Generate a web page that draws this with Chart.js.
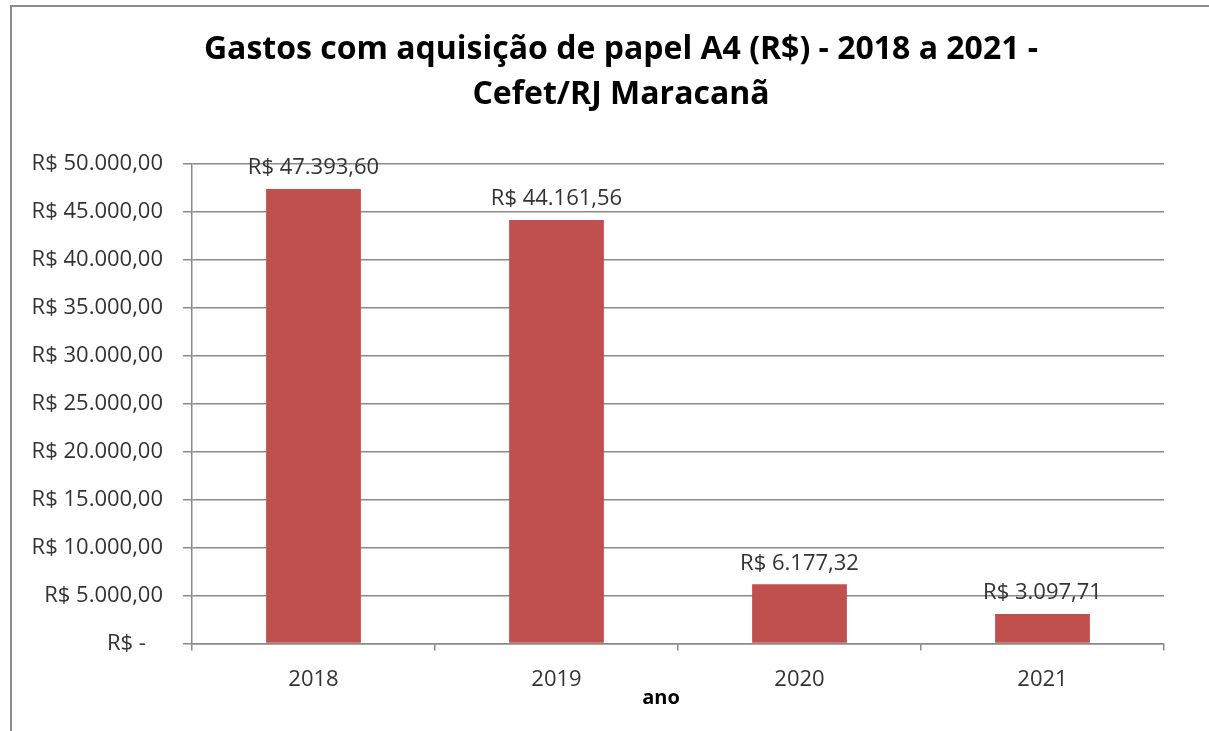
<!DOCTYPE html>
<html>
<head>
<meta charset="utf-8">
<script src="https://cdn.jsdelivr.net/npm/chart.js@4.4.1/dist/chart.umd.min.js"></script>
<style>
  html, body { margin: 0; padding: 0; background: #fff; }
  #wrap { width: 1209px; height: 731px; position: relative; }
</style>
</head>
<body>
<div id="wrap"><canvas id="gastos"></canvas></div>
<script>
// Dados
const anos = ['2018', '2019', '2020', '2021'];
const gastos = [47393.60, 44161.56, 6177.32, 3097.71];
const rotulosValores = ['R$ 47.393,60', 'R$ 44.161,56', 'R$ 6.177,32', 'R$ 3.097,71'];
const rotulosEixoY = ['R$ -   ', 'R$ 5.000,00', 'R$ 10.000,00', 'R$ 15.000,00', 'R$ 20.000,00',
    'R$ 25.000,00', 'R$ 30.000,00', 'R$ 35.000,00', 'R$ 40.000,00', 'R$ 45.000,00', 'R$ 50.000,00'];
const titulo = ['Gastos com aquisição de papel A4 (R$) - 2018 a 2021 -', 'Cefet/RJ Maracanã'];
const tituloX = 'ano';

const FONT = "'Open Sans', 'Noto Sans', sans-serif";
const TEXT = '#333333';
const GRID = '#8a8a8a';

// moldura (linhas superior e esquerda), título e nome do eixo X como no original
const moldura = {
    id: 'moldura',
    beforeDraw(chart) {
        const ctx = chart.ctx;
        ctx.save();
        ctx.strokeStyle = '#8c8c8c';
        ctx.lineWidth = 2;
        ctx.beginPath();
        ctx.moveTo(11, 731);
        ctx.lineTo(11, 6);
        ctx.lineTo(1209, 6);
        ctx.stroke();

        ctx.fillStyle = '#000000';
        ctx.textAlign = 'center';
        ctx.textBaseline = 'middle';
        ctx.font = 'bold 32px ' + FONT;
        titulo.forEach((linha, i) => ctx.fillText(linha, 621, 50 + i * 45));

        // "ano" fica um pouco à esquerda do centro, como no Excel
        ctx.font = 'bold 20px ' + FONT;
        ctx.fillText(tituloX, 661, 698);
        ctx.restore();
    }
};

// rótulos de valor acima das barras
const rotulos = {
    id: 'rotulos',
    afterDatasetsDraw(chart) {
        const ctx = chart.ctx;
        const meta = chart.getDatasetMeta(0);
        ctx.save();
        ctx.font = '22px ' + FONT;
        ctx.fillStyle = TEXT;
        ctx.textAlign = 'center';
        ctx.textBaseline = 'bottom';
        meta.data.forEach((bar, i) => {
            ctx.fillText(rotulosValores[i], bar.x, bar.y - 10);
        });
        ctx.restore();
    }
};

new Chart(document.getElementById('gastos'), {
    type: 'bar',
    data: {
        labels: anos,
        datasets: [{
            data: gastos,
            backgroundColor: '#C0504D',
            borderWidth: 0,
            categoryPercentage: 1,
            barPercentage: 0.39
        }]
    },
    plugins: [moldura, rotulos],
    options: {
        responsive: true,
        maintainAspectRatio: false,
        animation: false,
        layout: { padding: { left: 0, right: 45, top: 164, bottom: 22 } },
        plugins: {
            legend: { display: false },
            tooltip: { enabled: false },
            title: { display: false }
        },
        scales: {
            x: {
                grid: {
                    offset: true,
                    drawOnChartArea: false,
                    color: GRID,
                    tickLength: 7,
                    lineWidth: 1.5
                },
                border: { color: GRID, width: 1.5 },
                ticks: { color: TEXT, font: { family: FONT, size: 22 }, padding: 16 }
            },
            y: {
                min: 0,
                max: 50000,
                afterFit(scale) { scale.width = 192; },
                grid: { color: GRID, lineWidth: 1.5, tickLength: 9 },
                border: { color: GRID, width: 1.5 },
                ticks: {
                    stepSize: 5000,
                    color: TEXT,
                    font: { family: FONT, size: 22 },
                    padding: 20,
                    callback: (v) => rotulosEixoY[Math.round(v / 5000)]
                }
            }
        }
    }
});
</script>
</body>
</html>
